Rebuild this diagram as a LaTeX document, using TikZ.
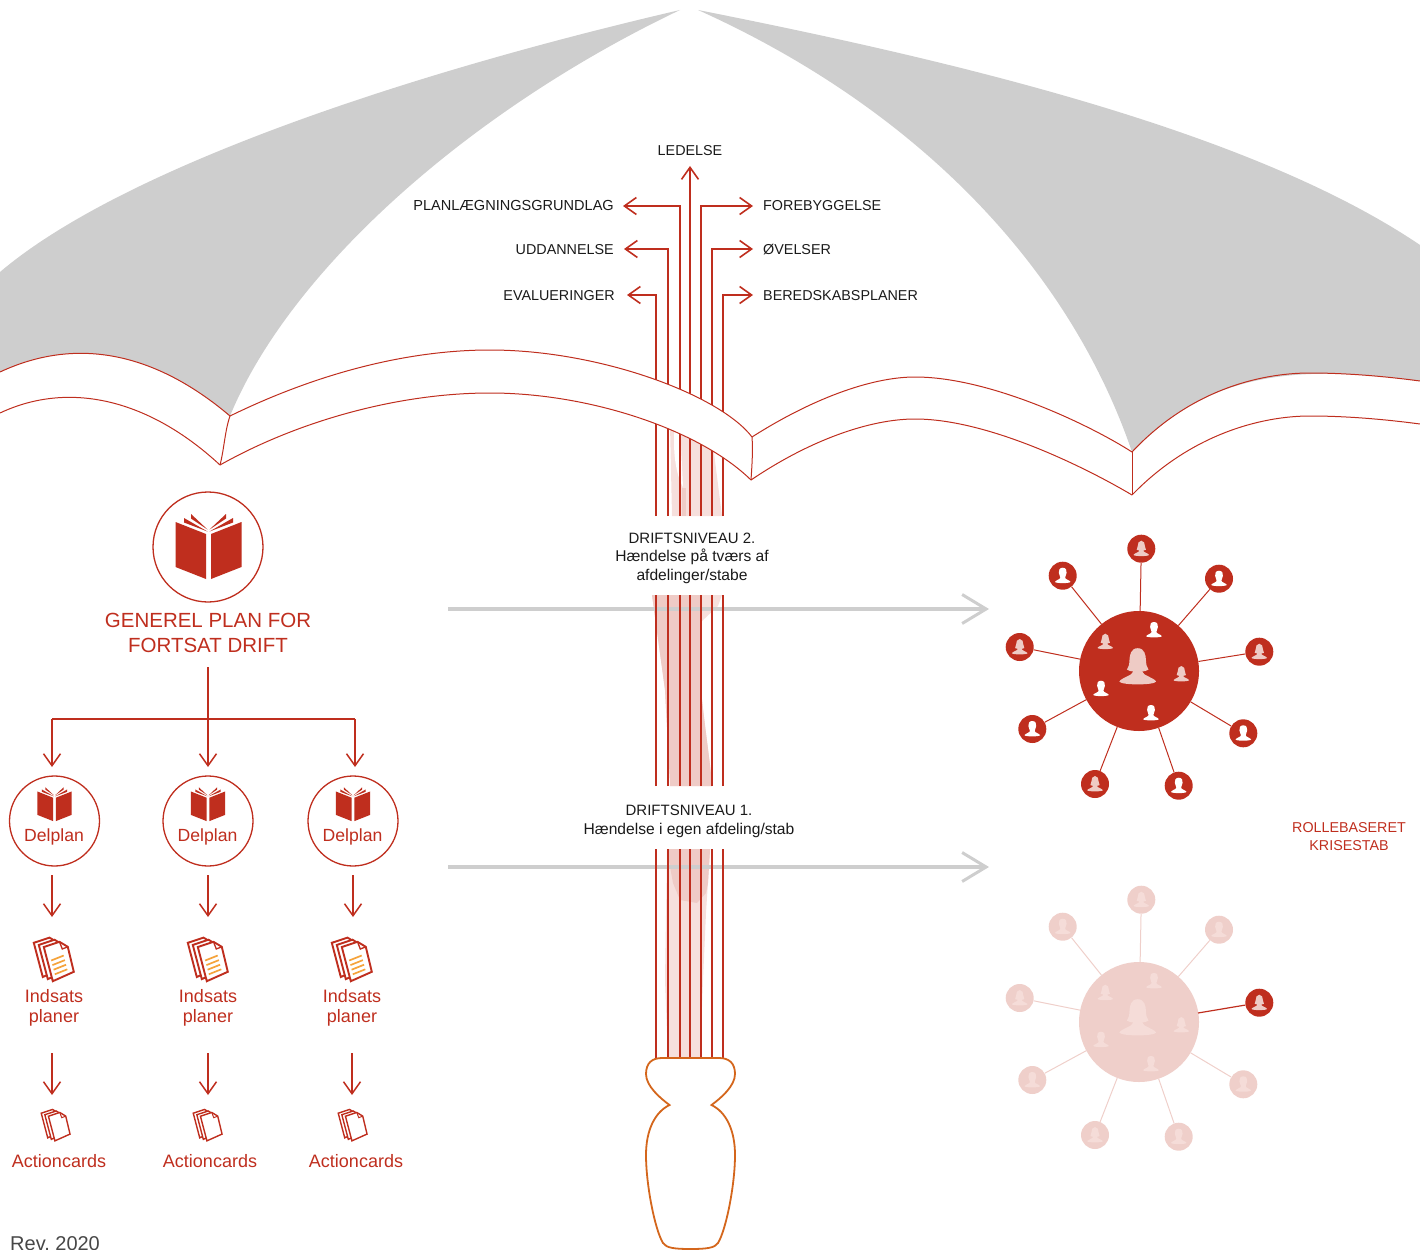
\documentclass[tikz,border=0pt]{standalone}
\usepackage{fontspec}
\setmainfont{Liberation Sans}
\usetikzlibrary{arrows.meta}
\definecolor{kred}{HTML}{BF2E1E}
\definecolor{kpale}{HTML}{EFCFCA}
\definecolor{kicon}{HTML}{EECBC5}
\definecolor{kfade}{HTML}{F5DCD8}
\definecolor{klight}{HTML}{F6DFDC}
\definecolor{kmid}{HTML}{EFCBC6}
\definecolor{kgrey}{HTML}{CECECE}
\definecolor{korange}{HTML}{D4661C}
\definecolor{kamber}{HTML}{F5A33B}
\definecolor{kink}{HTML}{1A1A1A}
\tikzset{
 x=1pt,y=-1pt,
 stemline/.style={kred,line width=1.8pt},
 thinarrow/.style={kred,line width=1.5pt,-{Straight Barb[length=12pt,width=17pt,line width=1.5pt]}},
 stemarrow/.style={kred,line width=1.8pt,-{Straight Barb[length=12pt,width=17pt,line width=1.6pt]}},
 bigarrow/.style={kgrey,line width=3.5pt,-{Straight Barb[length=24pt,width=29pt,line width=3pt]}},
 canopyline/.style={kred,line width=1pt},
 label/.style={inner sep=0pt,font=\fontsize{14.35}{17}\selectfont,text=kink},
 midlabel/.style={inner sep=0pt,align=center,font=\fontsize{15.6}{18.5}\selectfont,text=kink},
 redlabel/.style={inner sep=0pt,font=\fontsize{18}{20}\selectfont,text=kred,align=center},
 ring/.style={circle,draw=kred,line width=1.3pt,fill=white,inner sep=0pt},
 satel/.style={circle,inner sep=0pt,minimum size=28pt},
 pics/bookicon/.style={code={
   \fill[kred] (-33,-26) -- (-2.5,-14) -- (-2.5,31) -- (-33,19) -- cycle;
   \fill[kred] (33,-26) -- (2.5,-14) -- (2.5,31) -- (33,19) -- cycle;
   \fill[kred] (-24.5,-30) -- (-1,-16.5) -- (-24.5,-25.5) -- cycle;
   \fill[kred] (-17.5,-34) -- (-1,-18.5) -- (-17.5,-29.5) -- cycle;
   \fill[kred] (24.5,-30) -- (1,-16.5) -- (24.5,-25.5) -- cycle;
   \fill[kred] (17.5,-34) -- (1,-18.5) -- (17.5,-29.5) -- cycle;
 }},
 pics/pagesicon/.style={code={
   \foreach \d in {10,5,0}{
    \filldraw[kred,fill=white,line width=#1,line join=miter,shift={(-\d,-0.42*\d)}]
      (-10.5,-11.5) -- (5.2,-16.7) -- (13.5,-11.7) -- (19.5,13.3) -- (-1.5,22.7) -- cycle;
   }
   \draw[kred,line width=#1*0.7] (5.2,-16.7) -- (8,-9.5) -- (13.5,-11.7);
 }},
 pics/textlines/.style={code={
   \foreach \d in {0,1,2,3}{
    \draw[kamber,line width=1.7pt] (-2.5+\d*1.2,2+\d*4.6) -- (10+\d*1.2,-3+\d*4.6);
   }
 }},
 pics/manicon/.style={code={
   \fill[#1] (0,-8) .. controls (3.2,-8) and (4.2,-5.5) .. (3.9,-3) .. controls (3.6,-0.8) and (2.4,0) .. (2.4,2)
     .. controls (2.4,3.6) and (7,4.5) .. (7.8,6.2) .. controls (7,7.8) and (-7,7.8) .. (-7.8,6.2)
     .. controls (-7,4.5) and (-2.4,3.6) .. (-2.4,2) .. controls (-2.4,0) and (-3.6,-0.8) .. (-3.9,-3)
     .. controls (-4.2,-5.5) and (-3.2,-8) .. (0,-8) -- cycle;
 }},
 pics/womanicon/.style={code={
   \fill[#1] (0,-8) .. controls (3,-8) and (3.4,-5) .. (3.5,-3) .. controls (3.6,-1) and (3.8,0) .. (4.6,1.1)
     .. controls (3.7,1.7) and (2.7,1.9) .. (1.9,1.9) .. controls (2.1,3.6) and (7,4.5) .. (7.8,6.2) .. controls (7,7.8) and (-7,7.8) .. (-7.8,6.2)
     .. controls (-7,4.5) and (-2.1,3.6) .. (-1.9,1.9) .. controls (-2.7,1.9) and (-3.7,1.7) .. (-4.6,1.1)
     .. controls (-3.8,0) and (-3.6,-1) .. (-3.5,-3) .. controls (-3.4,-5) and (-3,-8) .. (0,-8) -- cycle;
 }},
}
\begin{document}
\begin{tikzpicture}
\useasboundingbox (0,0) rectangle (1420,1249);
\clip (0,0) rectangle (1420,1249);
% canopy grey panels
\fill[kgrey] (680,10) .. controls (400,75) and (120,170) .. (0,272) -- (0,372)
  .. controls (90,330) and (170,365) .. (230,416) .. controls (290,270) and (470,110) .. (680,10) -- cycle;
\fill[kgrey] (698,10) .. controls (950,60) and (1250,130) .. (1420,245) -- (1420,381)
  .. controls (1300,365) and (1210,370) .. (1132,452) .. controls (1070,270) and (920,110) .. (698,10) -- cycle;
% pink swoosh in the stem, interrupted by the texts
\begin{scope}
\clip (640,425) rectangle (740,516) (640,595) rectangle (740,786) (640,849) rectangle (740,1059);
\fill[klight] (670,425) -- (712,425) -- (713,445) -- (722,516) -- (722,595) -- (718,606) -- (701,622) -- (701,690)
  .. controls (705,730) and (710,760) .. (712,785) -- (710,850) -- (706,913) -- (703,980) -- (700,1059)
  -- (668,1059) -- (665,980) -- (667,850) -- (670,783) -- (665,690) -- (652,595) -- (672,516) -- cycle;
\fill[kmid] (652,595) -- (700,595) -- (701,622) -- (701,690)
  .. controls (705,730) and (710,760) .. (712,785) -- (710,850) -- (708,883) -- (706,893) -- (697,903) -- (680,900) -- (673,883) -- (667,850)
  -- (670,783) -- (665,690) -- cycle;
\fill[white] (675,425) .. controls (672,450) and (676,475) .. (683,487) -- (680,425) -- cycle;
\fill[kmid] (682,488) -- (686,488) -- (686,516) -- (682,516) -- cycle;
\end{scope}
% grey level arrows
\coordinate (g2s) at (448,609); \coordinate (g2e) at (989,609);
\coordinate (g1s) at (448,867); \coordinate (g1e) at (989,867);
\draw[bigarrow] (g2s) -- (g2e);
\draw[bigarrow] (g1s) -- (g1e);
% stem lines
\foreach \n/\xx in {a/656,b/668,c/680,d/690,e/701,f/712,g/723}{
  \coordinate (\n0) at (\xx,1059);
  \coordinate (\n1) at (\xx,849);
  \coordinate (\n2) at (\xx,786);
  \coordinate (\n3) at (\xx,595);
  \coordinate (\n4) at (\xx,516);
  \coordinate (\n5) at (\xx,420);
  \draw[stemline] (\n0) -- (\n1) (\n2) -- (\n3) (\n4) -- (\n5);
}
\node[label] (ledelse) at (690,151) {LEDELSE};
\node[label,anchor=east,font=\fontsize{14.55}{17}\selectfont] (plan) at (614,205.2) {PLANLÆGNINGSGRUNDLAG};
\node[label,anchor=east] (udd) at (614,250) {UDDANNELSE};
\node[label,anchor=east] (eval) at (615,296) {EVALUERINGER};
\node[label,anchor=west] (fore) at (763,206) {FOREBYGGELSE};
\node[label,anchor=west] (ovel) at (763,250) {ØVELSER};
\node[label,anchor=west] (bere) at (763,296) {BEREDSKABSPLANER};
\coordinate (tipd) at (690,166);
\coordinate (tipc) at (623,206);
\coordinate (tipb) at (624,249);
\coordinate (tipa) at (627,295);
\coordinate (tipe) at (753,206);
\coordinate (tipf) at (753,249);
\coordinate (tipg) at (753,295);
\draw[stemarrow] (d5) -- (tipd);
\draw[stemarrow] (c5) |- (tipc);
\draw[stemarrow] (b5) |- (tipb);
\draw[stemarrow] (a5) |- (tipa);
\draw[stemarrow] (e5) |- (tipe);
\draw[stemarrow] (f5) |- (tipf);
\draw[stemarrow] (g5) |- (tipg);
% canopy white bands and edges
\fill[white] (230,416) .. controls (320,372) and (410,350) .. (490,350) .. controls (600,350) and (720,395) .. (752,437)
  -- (751,480) .. controls (700,430) and (590,393) .. (490,393) .. controls (400,393) and (300,420) .. (220,465) -- cycle;
\draw[canopyline] (0,372) .. controls (90,330) and (170,365) .. (230,416);
\draw[canopyline] (0,413) .. controls (70,380) and (150,400) .. (220,465);
\draw[canopyline] (230,416) .. controls (225,430) and (224,450) .. (220,465);
\draw[canopyline] (230,416) .. controls (320,372) and (410,350) .. (490,350) .. controls (600,350) and (720,395) .. (752,437);
\draw[canopyline] (220,465) .. controls (300,420) and (400,393) .. (490,393) .. controls (590,393) and (700,430) .. (751,480);
\draw[canopyline] (752,437) .. controls (753,450) and (752,465) .. (751,480);
\draw[canopyline] (752,437) .. controls (810,400) and (870,377) .. (915,377) .. controls (990,377) and (1090,425) .. (1132,452);
\draw[canopyline] (751,480) .. controls (810,440) and (870,419) .. (915,419) .. controls (990,419) and (1090,470) .. (1132,495);
\draw[canopyline] (1132,452) -- (1132,495);
\draw[canopyline] (1132,452) .. controls (1190,390) and (1260,373) .. (1310,373) .. controls (1350,373) and (1390,377) .. (1420,381);
\draw[canopyline] (1132,495) .. controls (1190,435) and (1260,416) .. (1310,416) .. controls (1350,416) and (1390,420) .. (1420,424);
% handle
\draw[korange,line width=1.8pt,fill=white] (662,1058) .. controls (652,1058) and (646,1063) .. (646,1074)
  .. controls (646,1086) and (660,1098) .. (669.5,1105) .. controls (655,1112) and (646,1130) .. (646,1155)
  .. controls (646,1185) and (655,1230) .. (663,1243) .. controls (666,1248) and (675,1249) .. (690.5,1249)
  .. controls (706,1249) and (715,1248) .. (718,1243) .. controls (726,1230) and (735,1185) .. (735,1155)
  .. controls (735,1130) and (726,1112) .. (711.5,1105) .. controls (721,1098) and (735,1086) .. (735,1074)
  .. controls (735,1063) and (729,1058) .. (719,1058) -- cycle;
% centre texts
\node[midlabel] (lvl2) at (692,558) {{\fontsize{15}{18.5}\selectfont DRIFTSNIVEAU 2.}\\Hændelse på tværs af\\afdelinger/stabe};
\node[midlabel] (lvl1) at (689,821.5) {{\fontsize{15}{18.5}\selectfont DRIFTSNIVEAU 1.}\\Hændelse i egen afdeling/stab};
% left tree
\node[ring,minimum size=110pt] (gen) at (208,547) {};
\pic at (208.5,548) {bookicon};
\node[redlabel,font=\fontsize{20.5}{25}\selectfont] (gentxt) at (208,632.5) {GENEREL PLAN FOR\\FORTSAT DRIFT};
\coordinate (hubl) at (52,719);
\coordinate (hubr) at (355,719);
\coordinate (top) at (208,667);
\coordinate (dropl) at (52,767);
\coordinate (dropm) at (208,767);
\coordinate (dropr) at (355,767);
\draw[kred,line width=2pt] (hubl) -- (hubr);
\draw[thinarrow,line width=2pt] (top) -- (dropm);
\draw[thinarrow,line width=2pt] (hubl) -- (dropl);
\draw[thinarrow,line width=2pt] (hubr) -- (dropr);
\foreach \n/\cx/\ax/\bx/\tx/\ix/\jx in {l/54.5/52/52/59/54/55,m/208/208/208/210/208/207,r/353/353/352/356/352/352}{
  \node[ring,minimum size=90pt] (del\n) at (\cx,821) {};
  \pic[scale=0.52] at (\cx,805) {bookicon};
  \node[redlabel,font=\fontsize{17.6}{20}\selectfont] (deltxt\n) at (\cx-0.5,836.5) {Delplan};
  \coordinate (a\n s) at (\ax,875); \coordinate (a\n e) at (\ax,917);
  \draw[thinarrow] (a\n s) -- (a\n e);
  \pic at (\ix+0.3,958.5) {pagesicon=1.9pt};
  \pic at (\ix-0.3,958.5) {textlines};
  \node[redlabel] (indtxt\n) at (\ix,1008) {Indsats\\planer};
  \coordinate (b\n s) at (\bx,1053); \coordinate (b\n e) at (\bx,1095);
  \draw[thinarrow] (b\n s) -- (b\n e);
  \pic[scale=0.72] at (\jx+1,1124.5) {pagesicon=1.4pt};
  \node[redlabel] (acttxt\n) at (\tx,1161) {Actioncards};
}
\node[label,anchor=base west,font=\fontsize{20}{22}\selectfont,text=black!72] (rev) at (10,1250) {Rev.\ 2020};
\node[label,align=center,text=kred,font=\fontsize{14.3}{18}\selectfont] (rolle) at (1349,836.5) {ROLLEBASERET\\KRISESTAB};
% upper network
\node[circle,fill=kred,inner sep=0pt,minimum size=120pt] (hubA) at (1139,671) {};
\foreach \n/\xx/\yy in {t/1141.3/548.7,tl/1062.7/575.7,tr/1219/578.7,l/1019.7/647,r/1259.3/651.7,bl/1032.3/729,br/1243.3/733.3,b1/1095/784,b2/1178.7/785.7}{
  \node[satel,fill=kred] (A\n) at (\xx,\yy) {};
  \draw[kred,line width=1pt] (hubA) -- (A\n);
}
\foreach \xx/\yy/\kind/\col in {1141.3/548.7/womanicon/kicon,1062.7/575.7/manicon/white,1219/578.7/manicon/white,1019.7/647/womanicon/kicon,1259.3/651.7/womanicon/kicon,1032.3/729/manicon/white,1243.3/733.3/manicon/white,1095/784/womanicon/kicon,1178.7/785.7/manicon/white,1154/630/manicon/white,1105.3/641.7/womanicon/kicon,1181.3/674/womanicon/kicon,1101/688.7/manicon/white,1151/713/manicon/white}{
  \pic at (\xx,\yy) {\kind=\col};
}
\pic[scale=2.35] at (1137.7,667) {womanicon=kicon};
% lower network
\node[circle,fill=kpale,inner sep=0pt,minimum size=120pt] (hubB) at (1139,1022) {};
\foreach \n/\xx/\yy in {t/1141.3/899.7,tl/1062.7/926.7,tr/1219/929.7,l/1019.7/998,bl/1032.3/1080,br/1243.3/1084.3,b1/1095/1135,b2/1178.7/1136.7}{
  \node[satel,fill=kpale] (B\n) at (\xx,\yy) {};
  \draw[kpale,line width=1pt] (hubB) -- (B\n);
}
\node[satel,fill=kred] (Br) at (1259.3,1002.7) {};
\coordinate (Bedge) at (1198,1013);
\draw[kred,line width=1.2pt] (Bedge) -- (Br);
\foreach \xx/\yy/\kind/\col in {1141.3/899.7/womanicon/kfade,1062.7/926.7/manicon/kfade,1219/929.7/manicon/kfade,1019.7/998/womanicon/kfade,1032.3/1080/manicon/kfade,1243.3/1084.3/manicon/kfade,1095/1135/womanicon/kfade,1178.7/1136.7/manicon/kfade,1154/981/manicon/kfade,1105.3/992.7/womanicon/kfade,1181.3/1025/womanicon/kfade,1101/1039.7/manicon/kfade,1151/1064/manicon/kfade,1259.3/1002.7/womanicon/kicon}{
  \pic at (\xx,\yy) {\kind=\col};
}
\pic[scale=2.35] at (1137.7,1018) {womanicon=kfade};
\end{tikzpicture}
\end{document}
